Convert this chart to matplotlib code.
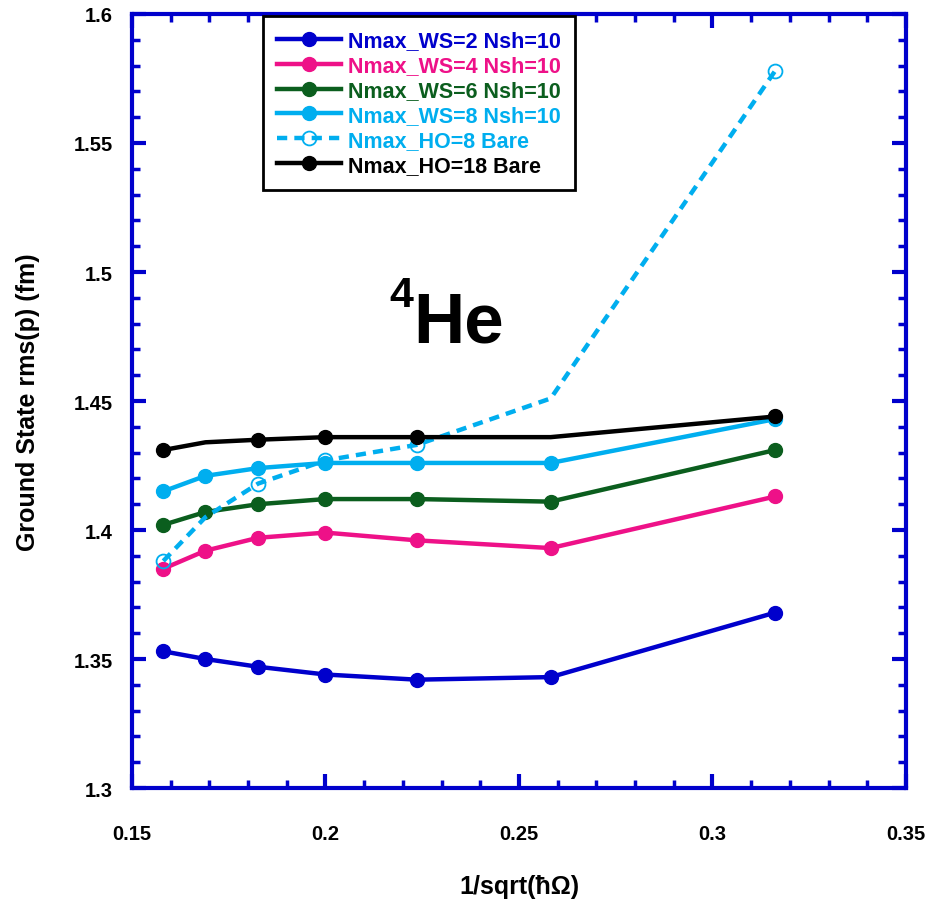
import matplotlib
matplotlib.use("Agg")
import matplotlib.pyplot as plt
from matplotlib.ticker import MultipleLocator, FuncFormatter

plt.rcParams['font.family'] = ['Liberation Sans', 'DejaVu Sans']
plt.rcParams['font.weight'] = 'bold'

x = [0.1581, 0.1690, 0.1826, 0.2000, 0.2236, 0.2582, 0.3162]
ws2 = [1.353, 1.350, 1.347, 1.344, 1.342, 1.343, 1.368]
ws4 = [1.385, 1.392, 1.397, 1.399, 1.396, 1.393, 1.413]
ws6 = [1.402, 1.407, 1.410, 1.412, 1.412, 1.411, 1.431]
ws8 = [1.415, 1.421, 1.424, 1.426, 1.426, 1.426, 1.443]
ho8 = [1.388, 1.405, 1.418, 1.427, 1.433, 1.451, 1.578]
ho18 = [1.431, 1.434, 1.435, 1.436, 1.436, 1.436, 1.444]

labels = ["Nmax_WS=2 Nsh=10", "Nmax_WS=4 Nsh=10", "Nmax_WS=6 Nsh=10",
          "Nmax_WS=8 Nsh=10", "Nmax_HO=8 Bare", "Nmax_HO=18 Bare"]
colors = ["#0000CC", "#EE1188", "#0B5E1E", "#00AEEF", "#00AEEF", "#000000"]

fig = plt.figure(figsize=(9.28, 9.03), dpi=100)
ax = fig.add_axes([0.1422, 0.1262, 0.8341, 0.8572])

lw = 3.2
ms = 10
ax.plot(x, ws2, '-o', color=colors[0], lw=lw, ms=ms, label=labels[0])
ax.plot(x, ws4, '-o', color=colors[1], lw=lw, ms=ms, label=labels[1])
ax.plot(x, ws6, '-o', color=colors[2], lw=lw, ms=ms, label=labels[2])
ax.plot(x, ws8, '-o', color=colors[3], lw=lw, ms=ms, label=labels[3])
ax.plot(x, ho8, '--o', color=colors[4], lw=lw, ms=ms, mfc='none', mew=1.3,
        dashes=(2.3, 1.6), markevery=[0, 2, 3, 4, 6], label=labels[4])
ax.plot(x, ho18, '-o', color=colors[5], lw=lw, ms=ms,
        markevery=[0, 2, 3, 4, 6], label=labels[5])

ax.set_xlim(0.15, 0.35)
ax.set_ylim(1.3, 1.6)
ax.xaxis.set_major_locator(MultipleLocator(0.05))
ax.xaxis.set_minor_locator(MultipleLocator(0.01))
ax.yaxis.set_major_locator(MultipleLocator(0.05))
ax.yaxis.set_minor_locator(MultipleLocator(0.01))
ax.xaxis.set_major_formatter(FuncFormatter(lambda v, p: f"{v:g}"))
ax.yaxis.set_major_formatter(FuncFormatter(lambda v, p: f"{v:g}"))

for s in ax.spines.values():
    s.set_color("#0000CC")
    s.set_linewidth(3)
ax.tick_params(which='both', direction='in', color="#0000CC", top=True, right=True,
               labelsize=14.5)
ax.tick_params(axis='x', which='major', pad=26)
ax.tick_params(axis='y', which='major', pad=14)
ax.tick_params(which='major', length=10, width=3)
ax.tick_params(which='minor', length=6, width=2.5)
for t in ax.get_xticklabels() + ax.get_yticklabels():
    t.set_fontweight('bold')

ax.set_xlabel("1/sqrt(ħΩ)", fontsize=18, fontweight='bold', labelpad=22)
ax.set_ylabel("Ground State rms(p) (fm)", fontsize=18, fontweight='bold', labelpad=24)

ax.text(0.2226, 1.4729, "He", fontsize=51, fontweight='bold', ha='left', va='baseline')
ax.text(0.2227, 1.4868, "4", fontsize=31, fontweight='bold', ha='right', va='baseline')

leg = ax.legend(loc='upper left', bbox_to_anchor=(0.169, 0.997), fontsize=15.5, frameon=True,
                fancybox=False, handlelength=3.0, borderpad=0.65, labelspacing=0.18,
                handletextpad=0.3, borderaxespad=0.0, framealpha=1.0)
leg.get_frame().set_edgecolor('black')
leg.get_frame().set_linewidth(2)
for t, c in zip(leg.get_texts(), colors):
    t.set_color(c)
    t.set_fontweight('bold')

fig.savefig("out.png", dpi=100)
